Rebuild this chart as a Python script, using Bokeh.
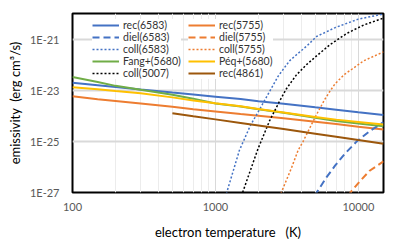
from bokeh.plotting import figure
from bokeh.models import FixedTicker, CustomJSTickFormatter, Legend, LegendItem
from bokeh.embed import file_html
from bokeh.resources import INLINE

# ---- data (electron temperature K, emissivity erg cm^3/s) ----
T_solid = [100, 150, 200, 300, 500, 700, 1000, 1500, 2000, 3000, 5000, 7000, 10000, 15000]
rec6583 = [1.95e-23, 1.58e-23, 1.35e-23, 1.07e-23, 8.1e-24, 6.8e-24, 5.6e-24, 4.5e-24,
           3.7e-24, 2.95e-24, 2.14e-24, 1.74e-24, 1.38e-24, 1.07e-24]
rec5755 = [5.75e-24, 4.47e-24, 3.80e-24, 3.02e-24, 2.24e-24, 1.82e-24, 1.48e-24, 1.17e-24,
           1.0e-24, 7.94e-25, 5.89e-25, 4.79e-25, 3.72e-25, 2.88e-25]
fang5680 = [3.31e-23, 2.09e-23, 1.48e-23, 1.05e-23, 6.61e-24, 4.68e-24, 3.02e-24, 2.29e-24,
            1.82e-24, 1.32e-24, 8.32e-25, 6.31e-25, 5.01e-25, 3.89e-25]
peq5680 = [1.32e-23, 1.10e-23, 9.33e-24, 7.59e-24, 5.25e-24, 3.98e-24, 3.09e-24, 2.34e-24,
           1.86e-24, 1.35e-24, 8.91e-25, 7.08e-25, 5.75e-25, 4.57e-25]

T_rec4861 = [500, 700, 1000, 1500, 2000, 3000, 5000, 7000, 10000, 15000]
rec4861 = [1.26e-24, 9.55e-25, 7.24e-25, 5.25e-25, 4.17e-25, 3.02e-25, 2.0e-25, 1.51e-25,
           1.12e-25, 8.13e-26]

T_coll6583 = [1150, 1200, 1472, 1750, 2208, 2393, 2750, 3300, 3715, 4400, 5100, 6900, 10000, 15000]
coll6583 = [4.47e-28, 1.0e-27, 4.47e-26, 3.98e-25, 3.98e-24, 8.91e-24, 3.55e-23, 1.41e-22,
            2.51e-22, 5.62e-22, 1.26e-21, 2.82e-21, 6.03e-21, 9.55e-21]

T_coll5007 = [1500, 1550, 1983, 2391, 2800, 3133, 3690, 4340, 5100, 6330, 8300, 10900, 15000]
coll5007 = [5.01e-28, 1.0e-27, 5.01e-26, 6.31e-25, 3.55e-24, 1.12e-23, 3.98e-23, 1.0e-22,
            2.19e-22, 6.03e-22, 1.66e-21, 3.55e-21, 6.61e-21]

T_coll5755 = [2800, 2890, 3400, 3790, 4110, 4600, 5100, 5840, 6400, 6870, 8000, 9000, 10900, 15000]
coll5755 = [4.47e-28, 1.0e-27, 8.91e-27, 4.47e-26, 1.0e-25, 3.55e-25, 1.12e-24, 4.47e-24,
            1.0e-23, 1.78e-23, 4.17e-23, 6.61e-23, 1.41e-22, 3.16e-22]

T_diel6583 = [5000, 5110, 6000, 6870, 8000, 9750, 12000, 15000]
diel6583 = [7.08e-28, 1.0e-27, 3.98e-27, 1.12e-26, 3.16e-26, 1.0e-25, 2.51e-25, 5.62e-25]

T_diel5755 = [8500, 8800, 10300, 12000, 15000]
diel5755 = [7.08e-28, 1.0e-27, 2.82e-27, 7.08e-27, 1.66e-26]

x_major = [100, 1000, 10000]
x_minor = [200, 300, 400, 500, 600, 700, 800, 900, 2000, 3000, 4000, 5000, 6000, 7000, 8000, 9000]
y_major = [1e-27, 1e-25, 1e-23, 1e-21]

BLUE = "#4472C4"
ORANGE = "#ED7D31"
GREEN = "#70AD47"
YELLOW = "#FFC000"
BROWN = "#9C570C"
FONT = "Lato"

p = figure(width=407, height=242, x_axis_type="log", y_axis_type="log",
           x_range=(100, 15000), y_range=(1e-27, 1e-20),
           output_backend="svg", toolbar_location=None,
           min_border_left=72, min_border_right=24, min_border_top=13, min_border_bottom=49)

p.background_fill_color = "white"
p.border_fill_color = "white"
p.outline_line_color = "black"
p.outline_line_width = 2

r_rec6583 = p.line(T_solid, rec6583, line_color=BLUE, line_width=2)
r_rec5755 = p.line(T_solid, rec5755, line_color=ORANGE, line_width=2)
r_diel6583 = p.line(T_diel6583, diel6583, line_color=BLUE, line_width=2, line_dash="7 4")
r_diel5755 = p.line(T_diel5755, diel5755, line_color=ORANGE, line_width=2, line_dash="7 4")
r_coll6583 = p.line(T_coll6583, coll6583, line_color=BLUE, line_width=1.5, line_dash="2 2")
r_coll5755 = p.line(T_coll5755, coll5755, line_color=ORANGE, line_width=1.5, line_dash="2 2")
r_fang = p.line(T_solid, fang5680, line_color=GREEN, line_width=2)
r_peq = p.line(T_solid, peq5680, line_color=YELLOW, line_width=2)
r_coll5007 = p.line(T_coll5007, coll5007, line_color="black", line_width=1.5, line_dash="2 2")
r_rec4861 = p.line(T_rec4861, rec4861, line_color=BROWN, line_width=2)

# axes
p.xaxis.ticker = FixedTicker(ticks=x_major, minor_ticks=x_minor)
p.yaxis.ticker = FixedTicker(ticks=y_major, minor_ticks=[])
p.xaxis.formatter = CustomJSTickFormatter(code="return tick.toFixed(0);")
p.yaxis.formatter = CustomJSTickFormatter(code="return '1E' + Math.round(Math.log10(tick));")

for ax in (p.xaxis, p.yaxis):
    ax.axis_line_color = None
    ax.major_tick_line_color = None
    ax.minor_tick_line_color = None
    ax.major_tick_out = 0
    ax.major_tick_in = 0
    ax.minor_tick_out = 0
    ax.minor_tick_in = 0
    ax.major_label_text_font = FONT
    ax.major_label_text_font_size = "11px"
    ax.major_label_text_color = "#595959"
    ax.axis_label_text_font = FONT
    ax.axis_label_text_font_size = "13px"
    ax.axis_label_text_font_style = "normal"
    ax.axis_label_text_color = "black"

p.xaxis.axis_label = "electron temperature\u00a0\u00a0\u00a0(K)"
p.yaxis.axis_label = "emissivity\u00a0 (erg cm\u00b3/s)"
p.xaxis.major_label_standoff = 10
p.xaxis.axis_label_standoff = 10
p.yaxis.major_label_standoff = 13
p.yaxis.axis_label_standoff = 4

# grid
p.xgrid.grid_line_color = "#d9d9d9"
p.xgrid.grid_line_width = 1
p.xgrid.minor_grid_line_color = "#ececec"
p.xgrid.minor_grid_line_width = 1
p.ygrid.grid_line_color = "#d9d9d9"
p.ygrid.grid_line_width = 2

# legends (two columns)
def make_legend(items, x):
    lg = Legend(items=items, location=(x, 113), orientation="vertical",
                padding=0, spacing=0, margin=0,
                glyph_width=27, glyph_height=12, label_height=12, label_standoff=4,
                label_text_font=FONT, label_text_font_size="10.5px",
                label_text_color="#333333",
                border_line_color=None, background_fill_color="white",
                background_fill_alpha=1.0)
    return lg

left_items = [
    LegendItem(label="rec(6583)", renderers=[r_rec6583]),
    LegendItem(label="diel(6583)", renderers=[r_diel6583]),
    LegendItem(label="coll(6583)", renderers=[r_coll6583]),
    LegendItem(label="Fang+(5680)", renderers=[r_fang]),
    LegendItem(label="coll(5007)", renderers=[r_coll5007]),
]
right_items = [
    LegendItem(label="rec(5755)", renderers=[r_rec5755]),
    LegendItem(label="diel(5755)", renderers=[r_diel5755]),
    LegendItem(label="coll(5755)", renderers=[r_coll5755]),
    LegendItem(label="P\u00e9q+(5680)", renderers=[r_peq]),
    LegendItem(label="rec(4861)", renderers=[r_rec4861]),
]
p.add_layout(make_legend(left_items, 20), "center")
p.add_layout(make_legend(right_items, 116), "center")

open("out.html", "w").write(file_html(p, INLINE))
